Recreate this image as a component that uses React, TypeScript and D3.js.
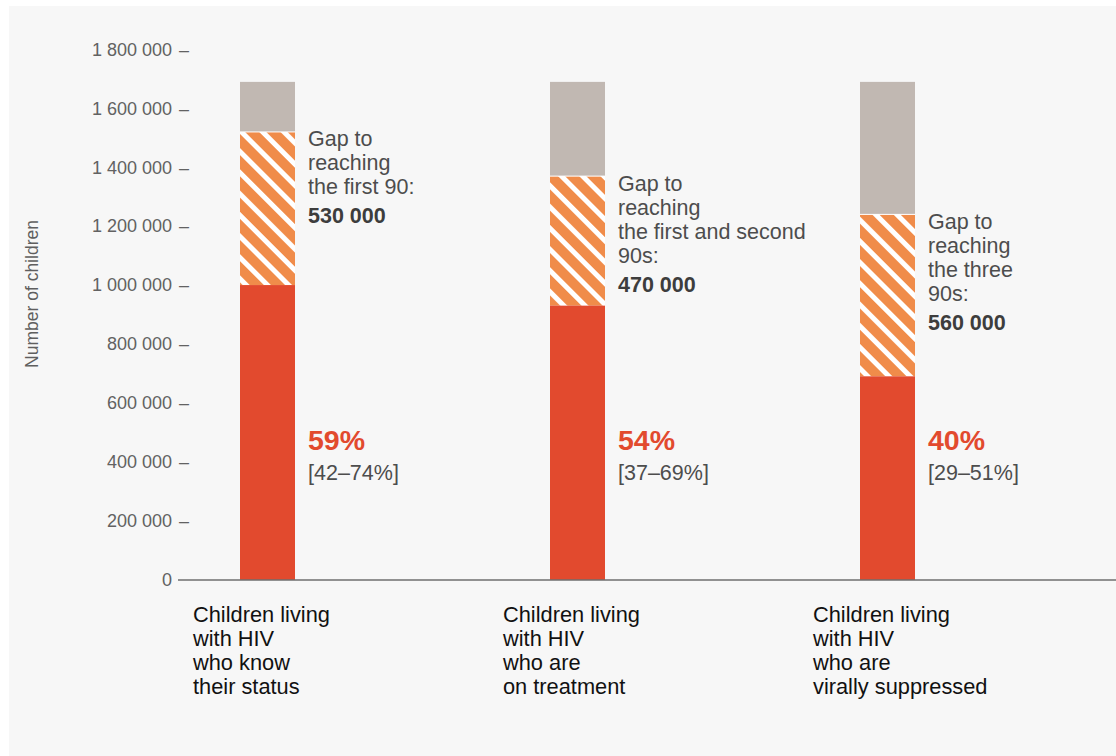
import React from "react";
import * as d3 from "d3";

const categories = ["know", "treatment", "suppressed"];
const categoryLabels = [
  ["Children living", "with HIV", "who know", "their status"],
  ["Children living", "with HIV", "who are", "on treatment"],
  ["Children living", "with HIV", "who are", "virally suppressed"],
];
const totalChildren = [1690000, 1690000, 1690000];
const targetLevel = [1520000, 1370000, 1240000];
const achieved = [1000000, 930000, 690000];
const gapLabels = [
  ["Gap to", "reaching", "the first 90:"],
  ["Gap to", "reaching", "the first and second", "90s:"],
  ["Gap to", "reaching", "the three", "90s:"],
];
const gapValues = ["530 000", "470 000", "560 000"];
const percentLabels = ["59%", "54%", "40%"];
const rangeLabels = ["[42–74%]", "[37–69%]", "[29–51%]"];
const yTicks = [0, 200000, 400000, 600000, 800000, 1000000, 1200000, 1400000, 1600000, 1800000];
const yTitle = "Number of children";

const W = 1116;
const H = 756;
const FONT = "'Liberation Sans', Arial, Helvetica, sans-serif";
const RED = "#e24a2e";
const ORANGE = "#f08c4a";
const GREY = "#c1b8b2";

export default function App() {
  const y = d3.scaleLinear().domain([0, 1800000]).range([579.5, 49.5]);
  const x = d3.scalePoint<string>().domain(categories).range([267.5, 887.5]);
  const barW = 55;
  const locale = d3.formatLocale({ decimal: ".", thousands: " ", grouping: [3], currency: ["", ""] });
  const fmt = locale.format(",d");

  return (
    <svg
      width={W}
      height={H}
      style={{ position: "absolute", left: 0, top: 0, fontFamily: FONT }}
    >
      <defs>
        <pattern
          id="hatch"
          patternUnits="userSpaceOnUse"
          width={15}
          height={15}
          patternTransform="rotate(-45)"
        >
          <rect x={0} y={0} width={15} height={15} fill={ORANGE} />
          <rect x={0} y={0} width={5} height={15} fill="#ffffff" />
        </pattern>
      </defs>
      <rect x={0} y={0} width={W} height={H} fill="#ffffff" />
      <rect x={9} y={6} width={W - 9} height={H - 6} fill="#f7f7f7" />

      {/* y axis tick labels */}
      {yTicks.map((t) => (
        <g key={t}>
          <text x={172} y={y(t)} dy="0.35em" textAnchor="end" fontSize={18} fill="#626262">
            {fmt(t)}
          </text>
          {t !== 0 && (
            <text x={189} y={y(t)} dy="0.35em" textAnchor="end" fontSize={18} fill="#626262">
              –
            </text>
          )}
        </g>
      ))}
      <text
        transform={`translate(38, ${294}) rotate(-90)`}
        textAnchor="middle"
        fontSize={17.5}
        fill="#5f5f5f"
      >
        {yTitle}
      </text>

      {categories.map((c, i) => {
        const cx = x(c)!;
        const x0 = cx - barW / 2;
        const ax = cx + 40.5;
        const tTop = y(targetLevel[i]);
        return (
          <g key={c}>
            <rect x={x0} y={y(totalChildren[i])} width={barW} height={tTop - y(totalChildren[i])} fill={GREY} />
            <rect x={x0} y={tTop} width={barW} height={y(achieved[i]) - tTop} fill="url(#hatch)" />
            <line x1={x0} x2={x0 + barW} y1={tTop} y2={tTop} stroke="#ffffff" strokeWidth={1} />
            <rect x={x0} y={y(achieved[i])} width={barW} height={y(0) - y(achieved[i]) + 0.5} fill={RED} />
            {gapLabels[i].map((l, j) => (
              <text key={j} x={ax} y={tTop + 14.5 + j * 24} fontSize={21.5} fill="#4d4d4d">
                {l}
              </text>
            ))}
            <text
              x={ax}
              y={tTop + 14.5 + gapLabels[i].length * 24 + 5}
              fontSize={21.5}
              fontWeight="bold"
              fill="#3d3d3d"
            >
              {gapValues[i]}
            </text>
            <text x={ax} y={450} fontSize={28.5} fontWeight="bold" fill={RED}>
              {percentLabels[i]}
            </text>
            <text x={ax} y={479.5} fontSize={21.5} fill="#4d4d4d">
              {rangeLabels[i]}
            </text>
            {categoryLabels[i].map((l, j) => (
              <text key={j} x={cx - 74.5} y={621.5 + j * 24} fontSize={21.8} fill="#111111">
                {l}
              </text>
            ))}
          </g>
        );
      })}

      <line x1={178} x2={W} y1={580} y2={580} stroke="#6f6f6f" strokeWidth={1.5} />
    </svg>
  );
}
